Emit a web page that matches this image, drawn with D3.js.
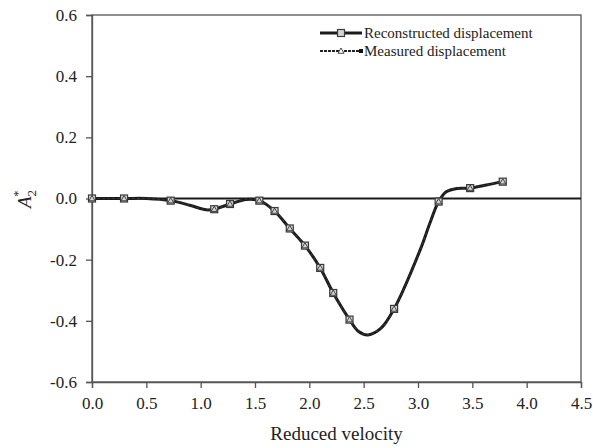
<!DOCTYPE html>
<html>
<head>
<meta charset="utf-8">
<script src="https://cdn.jsdelivr.net/npm/d3@7"></script>
<style>
  body { margin: 0; background: #fff; }
  text { font-family: "Liberation Serif", "Times New Roman", serif; fill: #222; }
</style>
</head>
<body>
<div id="chart"></div>
<script>
(function(){

  // marker positions (reduced velocity) and the values of both series
  const markerX = [0.0, 0.295, 0.724, 1.125, 1.27, 1.54, 1.68, 1.82, 1.96, 2.10, 2.22, 2.37, 2.78, 3.19, 3.48, 3.78];
  const reconstructedY = [0.0, 0.0, -0.007, -0.035, -0.018, -0.007, -0.041, -0.098, -0.154, -0.227, -0.309, -0.396, -0.361, -0.010, 0.034, 0.055];
  const measuredY = [0.0, 0.0, -0.007, -0.035, -0.018, -0.007, -0.041, -0.098, -0.154, -0.227, -0.309, -0.396, -0.361, -0.010, 0.034, 0.055];

  // smoothed curve
  const curveX = [0.0, 0.3, 0.5, 0.724, 0.9, 1.05, 1.125, 1.27, 1.42, 1.54, 1.68, 1.82, 1.96, 2.10, 2.22, 2.37, 2.45, 2.54, 2.66, 2.78, 3.02, 3.11, 3.19, 3.26, 3.36, 3.48, 3.63, 3.78];
  const curveY = [0.0, 0.0, 0.0, -0.007, -0.022, -0.037, -0.035, -0.018, -0.003, -0.007, -0.041, -0.098, -0.154, -0.227, -0.309, -0.396, -0.434, -0.446, -0.424, -0.361, -0.168, -0.080, -0.010, 0.022, 0.033, 0.034, 0.044, 0.056];

  const xTicks = [0, 0.5, 1.0, 1.5, 2.0, 2.5, 3.0, 3.5, 4.0, 4.5];
  const yTicks = [-0.6, -0.4, -0.2, 0.0, 0.2, 0.4, 0.6];
  const seriesNames = ["Reconstructed displacement", "Measured displacement"];

  const width = 593, height = 448;
  const margin = { top: 15, right: 12, bottom: 66, left: 92 };
  const w = width - margin.left - margin.right;
  const h = height - margin.top - margin.bottom;

  const svg = d3.select("#chart").append("svg")
      .attr("width", width)
      .attr("height", height);

  const g = svg.append("g")
      .attr("transform", `translate(${margin.left},${margin.top})`);

  const x = d3.scaleLinear().domain([0, 4.5]).range([0, w]);
  const y = d3.scaleLinear().domain([-0.6, 0.6]).range([h, 0]);

  // frame
  g.append("rect")
      .attr("width", w).attr("height", h)
      .attr("fill", "none").attr("stroke", "#555").attr("stroke-width", 1.3);

  const xAxis = g.append("g")
      .attr("transform", `translate(0,${h})`)
      .call(d3.axisBottom(x).tickValues(xTicks).tickFormat(d3.format(".1f")).tickSize(6).tickPadding(9));
  const yAxis = g.append("g")
      .call(d3.axisLeft(y).tickValues(yTicks).tickFormat(d3.format(".1f")).tickSize(6).tickPadding(9));

  [xAxis, yAxis].forEach(a => {
    a.select(".domain").attr("stroke", "#555").attr("stroke-width", 1.3);
    a.selectAll(".tick line").attr("stroke", "#555").attr("stroke-width", 1.3);
    a.selectAll(".tick text").style("font-size", "17px").attr("fill", "#222")
      .style("font-family", "Liberation Serif, serif");
  });
  // tick labels use a hyphen for the minus sign
  yAxis.selectAll(".tick text").text(d => d3.format(".1f")(d).replace("\u2212", "-"));

  // zero line
  g.append("line")
      .attr("x1", 0).attr("x2", w)
      .attr("y1", y(0)).attr("y2", y(0))
      .attr("stroke", "#1a1a1a").attr("stroke-width", 2);

  const line = d3.line()
      .x(d => x(d[0])).y(d => y(d[1]))
      .curve(d3.curveCatmullRom.alpha(0.5));

  const curve = curveX.map((v, i) => [v, curveY[i]]);

  // reconstructed (thick)
  g.append("path")
      .datum(curve)
      .attr("d", line)
      .attr("fill", "none").attr("stroke", "#1a1a1a").attr("stroke-width", 3);

  // measured (thin dashed)
  g.append("path")
      .datum(curve)
      .attr("d", line)
      .attr("fill", "none").attr("stroke", "#333").attr("stroke-width", 1.2)
      .attr("stroke-dasharray", "3,2");

  const rec = markerX.map((v, i) => [v, reconstructedY[i]]);
  const mea = markerX.map((v, i) => [v, measuredY[i]]);
  const tri = d3.symbol().type(d3.symbolTriangle).size(16);

  g.selectAll(".sq").data(rec).enter().append("rect")
      .attr("class", "sq")
      .attr("x", d => x(d[0]) - 3.5).attr("y", d => y(d[1]) - 3.5)
      .attr("width", 7).attr("height", 7)
      .attr("fill", "#d4d4d4").attr("stroke", "#3a3a3a").attr("stroke-width", 1.2);

  g.selectAll(".tri").data(mea).enter().append("path")
      .attr("class", "tri")
      .attr("d", tri)
      .attr("transform", d => `translate(${x(d[0])},${y(d[1]) + 0.5})`)
      .attr("fill", "none").attr("stroke", "#333").attr("stroke-width", 0.9);

  // legend
  const lg = svg.append("g").attr("transform", "translate(320,33)");
  lg.append("line").attr("x1", 0).attr("x2", 42).attr("y1", 0).attr("y2", 0)
      .attr("stroke", "#1a1a1a").attr("stroke-width", 3);
  lg.append("rect").attr("x", 17.5).attr("y", -3.5).attr("width", 7).attr("height", 7)
      .attr("fill", "#d4d4d4").attr("stroke", "#3a3a3a").attr("stroke-width", 1.2);
  lg.append("text").attr("x", 44).attr("y", 5).style("font-size", "15px").text(seriesNames[0]);

  const lg2 = svg.append("g").attr("transform", "translate(320,51)");
  lg2.append("line").attr("x1", 0).attr("x2", 40).attr("y1", 0).attr("y2", 0)
      .attr("stroke", "#222").attr("stroke-width", 2).attr("stroke-dasharray", "3,1");
  lg2.append("rect").attr("x", 39).attr("y", -2).attr("width", 4).attr("height", 4).attr("fill", "#111");
  lg2.append("path").attr("d", tri).attr("transform", "translate(21,0.5)")
      .attr("fill", "#fff").attr("stroke", "#333").attr("stroke-width", 0.9);
  lg2.append("text").attr("x", 44).attr("y", 5).style("font-size", "15px").text(seriesNames[1]);

  // axis titles
  svg.append("text")
      .attr("x", margin.left + w / 2).attr("y", 440)
      .attr("text-anchor", "middle")
      .style("font-size", "19px")
      .text("Reduced velocity");

  const yl = svg.append("text")
      .attr("transform", "translate(31,199) rotate(-90)")
      .attr("text-anchor", "middle")
      .style("font-size", "19px");
  yl.append("tspan").style("font-style", "italic").text("A");
  yl.append("tspan").attr("dy", 5).style("font-size", "13px").text("2");
  yl.append("tspan").attr("dx", -7).attr("dy", -14).style("font-size", "13px").text("*");

})();
</script>
</body>
</html>
